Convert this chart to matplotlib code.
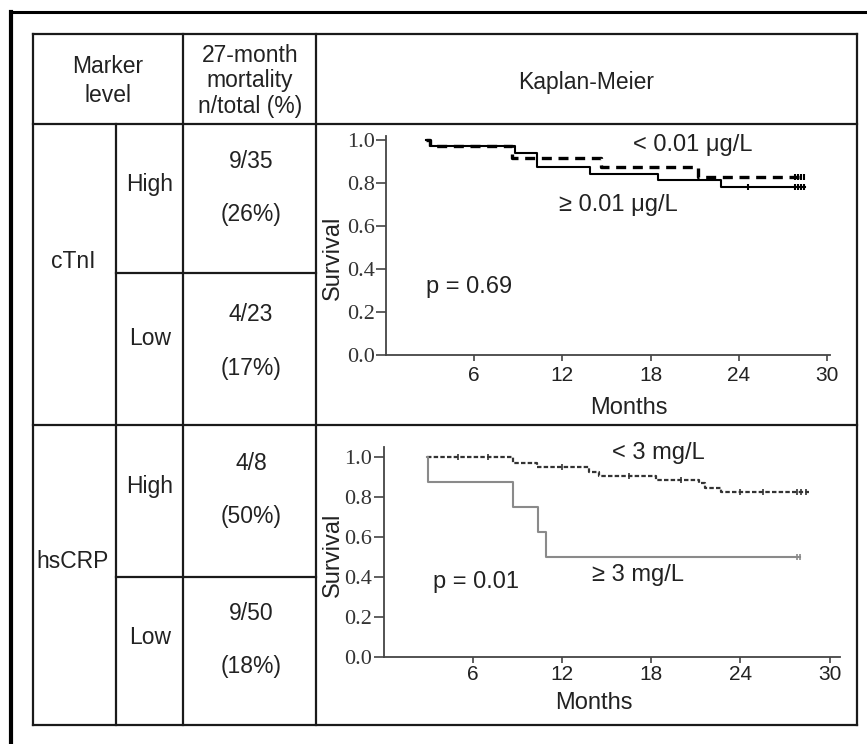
import matplotlib
matplotlib.use('Agg')
import matplotlib.pyplot as plt
from matplotlib.lines import Line2D

plt.rcParams['font.family'] = ['Liberation Sans', 'DejaVu Sans']

# Table content
markers = ['cTnI', 'hsCRP']
levels = ['High', 'Low']
deaths = [9, 4, 4, 9]
totals = [35, 23, 8, 50]

# Kaplan-Meier curves, cTnI (months, survival)
ctni_low_t = [2.7, 3.0, 8.6, 14.6, 21.2, 28.5]
ctni_low_s = [1.0, 0.974, 0.915, 0.873, 0.826, 0.826]
ctni_low_cens = [27.8, 28.0, 28.2, 28.4]
ctni_high_t = [2.7, 3.0, 8.8, 10.3, 13.9, 18.5, 22.8, 28.5]
ctni_high_s = [1.0, 0.974, 0.94, 0.873, 0.842, 0.814, 0.783, 0.783]
ctni_high_cens = [24.6, 27.8, 28.0, 28.2, 28.4]

# Kaplan-Meier curves, hsCRP
crp_low_t = [2.9, 8.7, 10.3, 13.85, 14.5, 18.3, 21.2, 21.65, 22.7, 28.6]
crp_low_s = [1.0, 0.967, 0.947, 0.922, 0.905, 0.883, 0.867, 0.845, 0.822, 0.822]
crp_low_cens = [5.0, 7.0, 12.0, 16.5, 20.0, 24.0, 25.5, 27.8, 28.1, 28.4]
crp_high_t = [2.9, 3.0, 8.7, 10.4, 10.9, 28.0]
crp_high_s = [1.0, 0.875, 0.75, 0.625, 0.5, 0.5]

months_ticks = [6, 12, 18, 24, 30]
surv_ticks = [0.0, 0.2, 0.4, 0.6, 0.8, 1.0]

W, H = 867, 744
fig = plt.figure(figsize=(W / 100, H / 100), dpi=100)


def fx(x):
    return x / W


def fy(y):
    return 1 - y / H


def line(x0, y0, x1, y1, lw=1.6, color='#1a1a1a'):
    fig.add_artist(Line2D([fx(x0), fx(x1)], [fy(y0), fy(y1)],
                          transform=fig.transFigure, color=color, lw=lw,
                          solid_capstyle='projecting'))


def txt(x, y, s, size=16.5, **kw):
    fig.text(fx(x), fy(y), s, ha='center', va='center', fontsize=size,
             color='#222222', **kw)


# Outer frame (runs off the right and bottom of the picture)
line(11, 12, 880, 12, lw=2.2, color='black')
line(11, 12, 11, 760, lw=3, color='black')

# Table grid
line(33, 34, 857, 34)
line(33, 725, 857, 725)
line(33, 34, 33, 725)
line(857, 34, 857, 725)
line(33, 124, 857, 124)
line(33, 425, 857, 425)
line(116, 124, 116, 725)
line(183, 34, 183, 725)
line(316, 34, 316, 725)
line(116, 273, 316, 273)
line(116, 577, 316, 577)

# Header
txt(108, 81, 'Marker\nlevel', linespacing=1.3)
txt(250, 81, '27-month\nmortality\nn/total (%)', linespacing=1.15)
txt(586, 83, 'Kaplan-Meier')

# Row text
marker_y = [262, 562]
level_y = [185, 338, 487, 637]
for i, m in enumerate(markers):
    txt(73, marker_y[i], m)
for i in range(4):
    txt(150, level_y[i], levels[i % 2])
    pct = round(100 * deaths[i] / totals[i])
    txt(251, level_y[i] - 23, f'{deaths[i]}/{totals[i]}')
    txt(251, level_y[i] + 30, f'({pct}%)')


def setup_axes(ax, xmax, ymax):
    ax.set_xlim(0, xmax)
    ax.set_ylim(0, ymax)
    ax.set_facecolor('none')
    for s in ['top', 'right']:
        ax.spines[s].set_visible(False)
    for s in ['left', 'bottom']:
        ax.spines[s].set_linewidth(1.3)
        ax.spines[s].set_color('#444444')
    ax.set_xticks(months_ticks)
    ax.set_xticklabels([str(t) for t in months_ticks])
    ax.set_yticks(surv_ticks)
    ax.set_yticklabels([f'{t:.1f}' for t in surv_ticks],
                       fontfamily='Liberation Serif')
    ax.tick_params(axis='y', length=7, width=1.2, pad=1, labelsize=16,
                   colors='#444444', labelcolor='#333333')
    ax.tick_params(axis='x', length=4, width=1.2, pad=4, labelsize=15,
                   colors='#444444', labelcolor='#222222')


# cTnI Kaplan-Meier
ax1 = fig.add_axes([fx(386), fy(355), (830 - 386) / W, (355 - 135.7) / H])
setup_axes(ax1, 30.2, 1.02)
ax1.plot(ctni_low_t, ctni_low_s, drawstyle='steps-post', color='black',
         lw=2.4, linestyle=(0, (3, 2)))
ax1.plot(ctni_high_t, ctni_high_s, drawstyle='steps-post', color='black',
         lw=1.5)
ax1.plot(ctni_low_cens, [ctni_low_s[-1]] * len(ctni_low_cens), '|',
         color='black', ms=5, mew=1.5)
ax1.plot(ctni_high_cens, [ctni_high_s[-1]] * len(ctni_high_cens), '|',
         color='black', ms=5, mew=1.5)

# hsCRP Kaplan-Meier
ax2 = fig.add_axes([fx(383.5), fy(657), (840 - 383.5) / W, (657 - 446.7) / H])
setup_axes(ax2, 30.7, 1.05)
ax2.tick_params(axis='x', pad=2)
ax2.plot(crp_low_t, crp_low_s, drawstyle='steps-post', color='#333333',
         lw=1.6, linestyle=(0, (2, 1)))
ax2.plot(crp_high_t, crp_high_s, drawstyle='steps-post', color='#8a8a8a',
         lw=1.5)
cens_s = []
for c in crp_low_cens:
    k = max(i for i, t in enumerate(crp_low_t) if t <= c)
    cens_s.append(crp_low_s[k])
ax2.plot(crp_low_cens, cens_s, '|', color='#333333', ms=4, mew=1.2)
ax2.plot([27.8, 28.0], [0.5, 0.5], '|', color='#8a8a8a', ms=4, mew=1.2)

# Labels and annotations
for x, y in [(333, 258), (333, 555)]:
    txt(x, y, 'Survival', size=17, rotation=90)
txt(629, 408, 'Months', size=17)
txt(594, 703, 'Months', size=17)
txt(693, 145, '< 0.01 μg/L', size=17)
txt(618, 205, '≥ 0.01 μg/L', size=17)
txt(469, 287, 'p = 0.69', size=17)
txt(658, 453, '< 3 mg/L', size=17)
txt(638, 575, '≥ 3 mg/L', size=17)
txt(476, 582, 'p = 0.01', size=17)

fig.savefig('out.png', dpi=100)
